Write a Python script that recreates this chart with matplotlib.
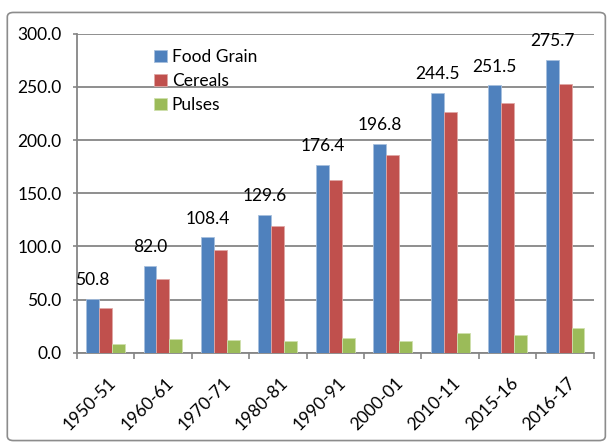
import numpy as np
import matplotlib.pyplot as plt
from matplotlib.patches import FancyBboxPatch
from matplotlib.transforms import ScaledTranslation

# Dados da produção (milhões de toneladas)
years = ["1950-51", "1960-61", "1970-71", "1980-81", "1990-91",
         "2000-01", "2010-11", "2015-16", "2016-17"]
food_grain = [50.8, 82.0, 108.4, 129.6, 176.4, 196.8, 244.5, 251.5, 275.7]
cereals = [42.4, 69.3, 96.4, 119.0, 162.1, 185.7, 226.3, 235.2, 252.5]
pulses = [8.4, 12.7, 11.8, 10.6, 14.3, 11.1, 18.2, 16.3, 22.9]
y_ticks = [0, 50, 100, 150, 200, 250, 300]

plt.rcParams['font.family'] = ['Lato', 'DejaVu Sans']
fs = 12.5

fig = plt.figure(figsize=(6.09, 4.45), dpi=100)
ax = fig.add_axes([0.126, 0.2074, 0.849, 0.7166])

# Moldura externa do gráfico
frame = FancyBboxPatch((0.012, 0.01), 0.982, 0.962, boxstyle="round,pad=0,rounding_size=0.01",
                       transform=fig.transFigure, fill=False, edgecolor='#8c8c8c', linewidth=1.2)
fig.patches.append(frame)

x = np.arange(len(years))
w = 0.225
ax.bar(x - w, food_grain, w, color='#4F81BD', edgecolor='#a7c0de', linewidth=0.6, label='Food Grain', zorder=3)
ax.bar(x, cereals, w, color='#C0504D', edgecolor='#e0a8a6', linewidth=0.6, label='Cereals', zorder=3)
ax.bar(x + w, pulses, w, color='#9BBB59', edgecolor='#cfe0ad', linewidth=0.6, label='Pulses', zorder=3)

# Rótulos sobre as barras de Food Grain
for xi, v in zip(x, food_grain):
    ax.text(xi - w, v + 13, f"{v:.1f}", ha='center', va='baseline', fontsize=fs)

ax.set_xlim(-0.5, len(years) - 0.5)
ax.set_ylim(0, 300)
ax.set_yticks(y_ticks)
ax.set_yticklabels([f"{t:.1f}" for t in y_ticks], fontsize=fs)
ax.yaxis.grid(True, color='#868686', linewidth=1.3, zorder=0)

ax.set_xticks(x)
ax.set_xticklabels(years, rotation=45, ha='right', va='center', rotation_mode='anchor', fontsize=fs)
ax.tick_params(axis='x', length=0, pad=20)
offset = ScaledTranslation(8 / 100, 0, fig.dpi_scale_trans)
for lbl in ax.get_xticklabels():
    lbl.set_transform(lbl.get_transform() + offset)
ax.set_xticks(np.arange(-0.5, len(years)), minor=True)
ax.tick_params(axis='x', which='minor', length=4, color='#868686', width=1.2)
ax.tick_params(axis='y', length=3, color='#868686', width=1.2, pad=8)

for s in ['top', 'right']:
    ax.spines[s].set_visible(False)
for s in ['left', 'bottom']:
    ax.spines[s].set_color('#868686')
    ax.spines[s].set_linewidth(1.3)

ax.legend(loc='upper left', bbox_to_anchor=(0.12, 1.0), frameon=False, fontsize=fs,
          handlelength=0.7, handleheight=0.7, handletextpad=0.3, labelspacing=0.45)

fig.savefig('out.png', dpi=100)
